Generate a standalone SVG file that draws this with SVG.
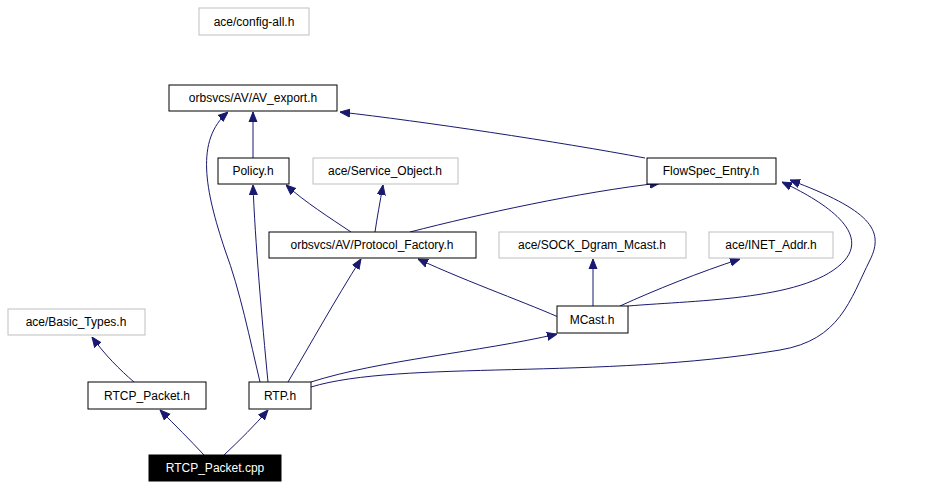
<svg xmlns="http://www.w3.org/2000/svg" width="943" height="490" viewBox="0 0 943 490">
<style>
text{font-family:"Liberation Sans",Arial,sans-serif;font-size:12px;text-anchor:middle}
.n rect{fill:#fff;stroke:#000;stroke-width:1}
.g rect{fill:#fff;stroke:#bfbfbf;stroke-width:1}
#edges path{fill:none;stroke:#191970;stroke-width:1}
</style>
<defs><marker id="a" viewBox="0 0 10 10" refX="10" refY="5" markerWidth="10" markerHeight="10" markerUnits="userSpaceOnUse" orient="auto"><path d="M0,1 L10,5 L0,9 z" fill="#191970" stroke="#191970"/></marker></defs>
<rect width="943" height="490" fill="#fff"/>
<g id="edges">
<path d="M253,158 L253,112" marker-end="url(#a)"/>
<path d="M645,158 C560,142 420,121 340,112" marker-end="url(#a)"/>
<path d="M260,382 C250,340 240,290 225,250 C205,190 195,140 228,112" marker-end="url(#a)"/>
<path d="M268,382 C262,320 255,240 253,185" marker-end="url(#a)"/>
<path d="M351,232 C330,218 305,202 286,185" marker-end="url(#a)"/>
<path d="M375,232 C377,218 380,202 383,185" marker-end="url(#a)"/>
<path d="M410,232 C480,214 580,192 660,183" marker-end="url(#a)"/>
<path d="M288,382 C310,345 335,300 361,259" marker-end="url(#a)"/>
<path d="M565,320 C530,304 470,283 418,259" marker-end="url(#a)"/>
<path d="M593,306 L593,259" marker-end="url(#a)"/>
<path d="M620,306 C655,290 700,272 740,259" marker-end="url(#a)"/>
<path d="M628,306 C700,300 810,300 845,260 C870,230 820,200 782,182" marker-end="url(#a)"/>
<path d="M311,382 C380,360 480,352 557,334" marker-end="url(#a)"/>
<path d="M311,387 C400,360 600,380 780,350 C840,340 850,300 870,260 C885,230 870,210 790,180" marker-end="url(#a)"/>
<path d="M134,382 C120,370 105,355 92,337" marker-end="url(#a)"/>
<path d="M204,455 C190,440 175,425 160,410" marker-end="url(#a)"/>
<path d="M224,455 C240,440 255,425 268,410" marker-end="url(#a)"/>
</g>
<g id="config" class="g"><rect x="199" y="8" width="110" height="27"/><text x="254" y="26">ace/config-all.h</text></g>
<g id="avexport" class="n"><rect x="169" y="85" width="168" height="26"/><text x="253" y="102">orbsvcs/AV/AV_export.h</text></g>
<g id="policy" class="n"><rect x="218" y="158" width="71" height="26"/><text x="253" y="175">Policy.h</text></g>
<g id="svcobj" class="g"><rect x="313" y="158" width="145" height="26"/><text x="385" y="175">ace/Service_Object.h</text></g>
<g id="flowspec" class="n"><rect x="647" y="158" width="129" height="26"/><text x="711" y="175">FlowSpec_Entry.h</text></g>
<g id="protofac" class="n"><rect x="269" y="232" width="207" height="26"/><text x="372" y="249">orbsvcs/AV/Protocol_Factory.h</text></g>
<g id="sockdgram" class="g"><rect x="499" y="232" width="187" height="26"/><text x="592" y="249">ace/SOCK_Dgram_Mcast.h</text></g>
<g id="inet" class="g"><rect x="709" y="232" width="124" height="26"/><text x="771" y="249">ace/INET_Addr.h</text></g>
<g id="basic" class="g"><rect x="8" y="309" width="137" height="26"/><text x="76" y="326">ace/Basic_Types.h</text></g>
<g id="mcast" class="n"><rect x="557" y="306" width="71" height="27"/><text x="592" y="324">MCast.h</text></g>
<g id="rtcph" class="n"><rect x="88" y="382" width="118" height="27"/><text x="147" y="400">RTCP_Packet.h</text></g>
<g id="rtp" class="n"><rect x="249" y="382" width="62" height="27"/><text x="280" y="400">RTP.h</text></g>
<g id="rtcpcpp"><rect x="149" y="455" width="132" height="26" fill="#000" stroke="#000"/><text x="215" y="472" fill="#fff">RTCP_Packet.cpp</text></g>
</svg>
